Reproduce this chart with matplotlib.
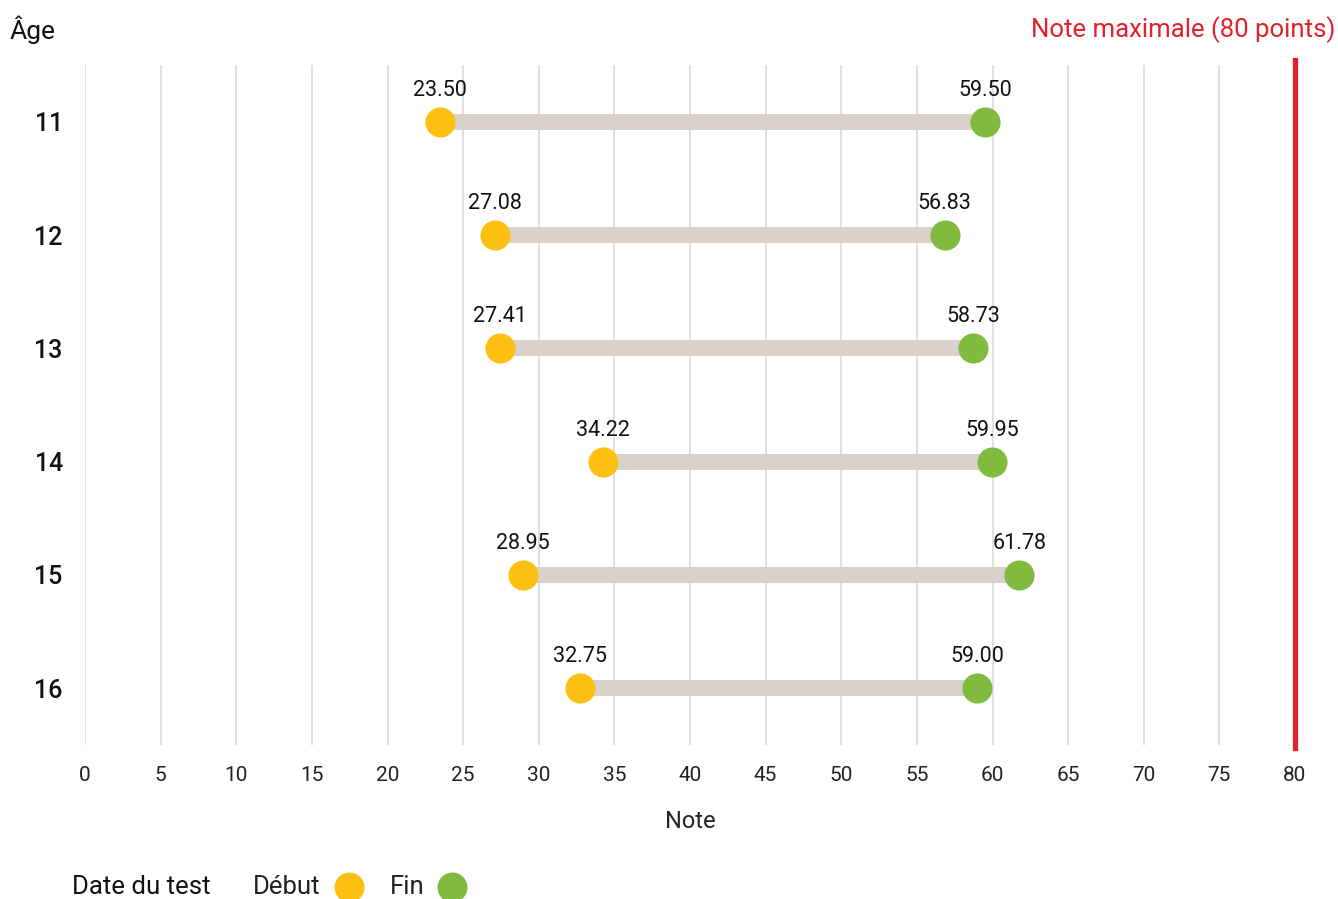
import matplotlib.pyplot as plt
from matplotlib.lines import Line2D

plt.rcParams['font.family'] = 'sans-serif'
plt.rcParams['font.sans-serif'] = ['Roboto', 'DejaVu Sans']

# Colours
grey_bar = '#d9d2cc'
grid_colour = '#dcd6d2'
start_colour = '#fdc010'
end_colour = '#80ba3f'
red = '#e3202c'

ages = ['11', '12', '13', '14', '15', '16']
debut = [23.50, 27.08, 27.41, 34.22, 28.95, 32.75]
fin = [59.50, 56.83, 58.73, 59.95, 61.78, 59.00]
x_ticks = list(range(0, 81, 5))
max_note = 80

fig = plt.figure(figsize=(13.38, 8.99), dpi=100)
ax = fig.add_axes([85 / 1338, 1 - 745 / 899, 1210 / 1338, 680 / 899])

rows = list(range(len(ages)))

for spine in ax.spines.values():
    spine.set_visible(False)

ax.set_xlim(0, 80)
ax.set_ylim(len(ages) - 0.5, -0.5)
ax.set_xticks(x_ticks)
ax.set_xticklabels([str(t) for t in x_ticks], fontsize=15, color='#222222')
ax.set_yticks(rows)
ax.set_yticklabels(ages, fontsize=18, color='#111111', fontweight='medium')
ax.tick_params(axis='x', length=0, pad=15)
ax.tick_params(axis='y', length=0, pad=16)
ax.grid(axis='x', color=grid_colour, linewidth=1.1, zorder=0)
ax.set_axisbelow(True)

ax.set_xlabel('Note', fontsize=17, color='#222222', labelpad=18)

# dumbbells
ax.hlines(rows, debut, fin, color=grey_bar, linewidth=11.5, zorder=2)
ax.scatter(debut, rows, s=470, color=start_colour, zorder=3, linewidths=0)
ax.scatter(fin, rows, s=470, color=end_colour, zorder=3, linewidths=0)

for r, d, f in zip(rows, debut, fin):
    ax.annotate(f'{d:.2f}', (d, r), xytext=(0, 15), textcoords='offset points',
                ha='center', va='bottom', fontsize=15.5, color='#111111')
    ax.annotate(f'{f:.2f}', (f, r), xytext=(0, 15), textcoords='offset points',
                ha='center', va='bottom', fontsize=15.5, color='#111111')

# max note line
ax.axvline(max_note, ymin=-0.005, ymax=1.008, color=red, linewidth=3.8,
           clip_on=False, zorder=4)

fig.text(10 / 1338, 1 - 30 / 899, 'Âge', fontsize=19, color='#111111',
         ha='left', va='center')
fig.text(1335 / 1338, 1 - 30 / 899, 'Note maximale (80 points)', fontsize=18.5,
         color=red, ha='right', va='center')

# legend
ly = 1 - 887 / 899
fig.text(72 / 1338, ly, 'Date du test', fontsize=18.5, color='#111111',
         ha='left', va='center')
fig.text(253 / 1338, ly, 'Début', fontsize=18.5, color='#222222',
         ha='left', va='center')
fig.text(390 / 1338, ly, 'Fin', fontsize=18.5, color='#222222',
         ha='left', va='center')
fig.add_artist(Line2D([349 / 1338], [ly], marker='o', markersize=21.6,
                      color=start_colour, markeredgewidth=0,
                      transform=fig.transFigure))
fig.add_artist(Line2D([452 / 1338], [ly], marker='o', markersize=21.6,
                      color=end_colour, markeredgewidth=0,
                      transform=fig.transFigure))

fig.savefig('out.png', dpi=100, facecolor='white')
